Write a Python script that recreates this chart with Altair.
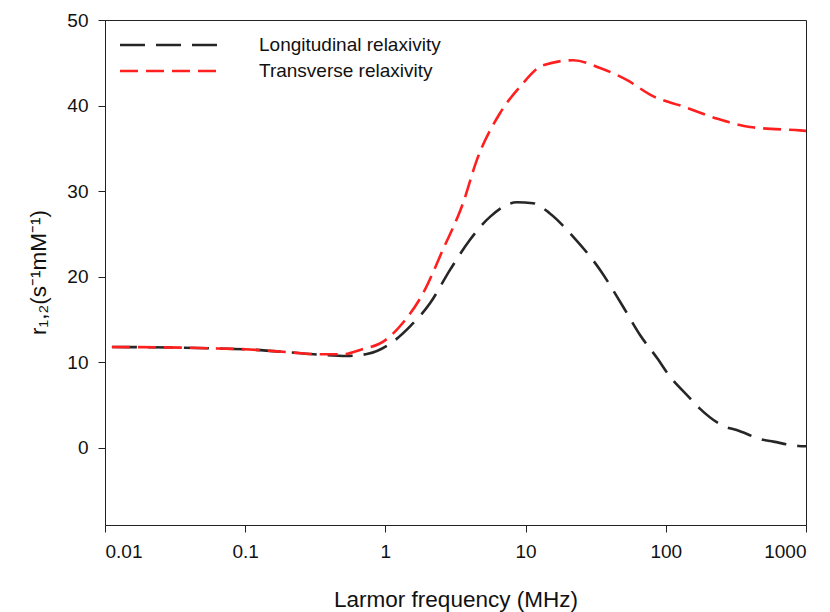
import altair as alt
import pandas as pd

series_names = ["Longitudinal relaxivity", "Transverse relaxivity"]

long_freq = [0.0112, 0.056, 0.108, 0.2, 0.34, 0.53, 0.75, 1.13, 1.5, 2.08, 2.89, 4.0,
             5.57, 8.65, 11.3, 14.9, 21.8, 34, 49.6, 65.5, 88.5, 101, 145, 175, 264,
             320, 483, 585, 882, 1000]
long_r = [11.8, 11.65, 11.5, 11.2, 10.9, 10.75, 11.0, 12.4, 14.2, 16.9, 20.8, 24.3,
          27.0, 28.7, 28.6, 27.4, 24.7, 20.8, 16.5, 13.2, 10.3, 8.9, 6.0, 4.6, 2.5,
          2.1, 1.0, 0.74, 0.23, 0.2]

trans_freq = [0.0112, 0.056, 0.108, 0.2, 0.34, 0.5, 0.66, 1.0, 1.33, 1.86, 2.56, 3.58,
              4.48, 6.56, 9.12, 13.3, 21.8, 34, 52.6, 81, 133, 230, 398, 906, 1000]
trans_r = [11.8, 11.65, 11.5, 11.2, 10.95, 10.95, 11.45, 12.6, 14.6, 18.1, 23.1, 28.6,
           33.6, 39.1, 42.2, 44.7, 45.3, 44.4, 43.0, 41.1, 39.9, 38.5, 37.5, 37.1, 37.05]

x_ticks = [0.01, 0.1, 1, 10, 100, 1000]
y_ticks = [0, 10, 20, 30, 40, 50]

df = pd.concat([
    pd.DataFrame({"freq": long_freq, "r": long_r, "series": series_names[0], "order": range(len(long_freq))}),
    pd.DataFrame({"freq": trans_freq, "r": trans_r, "series": series_names[1], "order": range(len(trans_freq))}),
])
legend_df = pd.DataFrame({"series": series_names})

FONT = "Liberation Sans"
color_scale = alt.Scale(domain=series_names, range=["#262626", "#ff1f1f"])
dash_scale = alt.Scale(domain=series_names, range=[[25, 11], [18, 8]])

lines = alt.Chart(df).mark_line(strokeWidth=2.6, interpolate="monotone").encode(
    x=alt.X("freq:Q",
            scale=alt.Scale(type="log", domain=[0.01, 1000], nice=False),
            axis=alt.Axis(values=x_ticks, format="~g", title="Larmor frequency (MHz)",
                          titleY=63, titleBaseline="top")),
    y=alt.Y("r:Q",
            scale=alt.Scale(domain=[-9, 50], nice=False, zero=False),
            axis=alt.Axis(values=y_ticks, title="r₁,₂(s⁻¹mM⁻¹)",
                          titleX=-60, titleY=252, titleBaseline="alphabetic")),
    color=alt.Color("series:N", scale=color_scale, legend=None),
    strokeDash=alt.StrokeDash("series:N", scale=dash_scale, legend=None),
    order="order:Q",
)

layers = [lines]
row_y = [25, 51]
for name, yy in zip(series_names, row_y):
    base = alt.Chart(legend_df).transform_filter(alt.datum.series == name)
    layers.append(
        base.mark_rule(strokeWidth=2.6).encode(
            x=alt.value(15), x2=alt.value(116), y=alt.value(yy),
            color=alt.Color("series:N", scale=color_scale, legend=None),
            strokeDash=alt.StrokeDash("series:N", scale=dash_scale, legend=None),
        )
    )
    layers.append(
        base.mark_text(align="left", baseline="middle", font=FONT, fontSize=19, color="#111").encode(
            x=alt.value(154), y=alt.value(yy), text="series:N",
        )
    )

chart = alt.layer(*layers).properties(
    width=701, height=505,
    autosize=alt.AutoSizeParams(type="none"),
    padding={"left": 97, "top": 12, "right": 16, "bottom": 90},
).configure_axis(
    grid=False,
    labelFont=FONT, titleFont=FONT,
    labelFontSize=19, titleFontSize=22.5,
    titleFontWeight="normal",
    labelColor="#111", titleColor="#111",
    domainColor="#222", tickColor="#222",
    tickSize=7, labelPadding=10,
).configure_axisY(
    labelPadding=10,
).configure_view(
    stroke="#222", strokeWidth=1,
)

chart.save("out.html", embed_options={"renderer": "svg", "actions": False})
